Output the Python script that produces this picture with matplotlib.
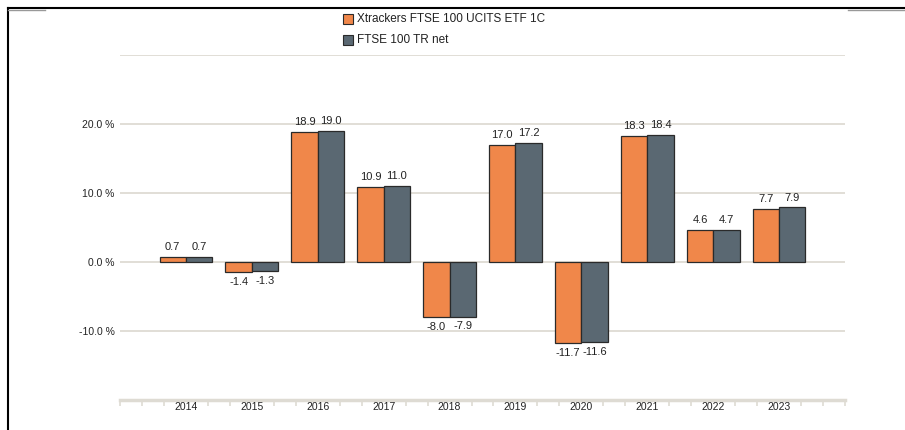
import matplotlib
matplotlib.use("Agg")
import matplotlib.pyplot as plt
from matplotlib.lines import Line2D
from matplotlib.patches import Rectangle
import numpy as np

plt.rcParams['font.family'] = ['Liberation Sans', 'DejaVu Sans']

years = ["2014", "2015", "2016", "2017", "2018", "2019", "2020", "2021", "2022", "2023"]
etf = [0.7, -1.4, 18.9, 10.9, -8.0, 17.0, -11.7, 18.3, 4.6, 7.7]
index = [0.7, -1.3, 19.0, 11.0, -7.9, 17.2, -11.6, 18.4, 4.7, 7.9]
series_names = ["Xtrackers FTSE 100 UCITS ETF 1C", "FTSE 100 TR net"]
yticks = [-10, 0, 10, 20]

orange = "#f0874a"
slate = "#5a6872"
grid_c = "#dedbd3"
text_c = "#222222"

W, H = 905, 430
fig = plt.figure(figsize=(W / 100, H / 100), dpi=100)
ax = fig.add_axes([120 / W, 30 / H, 725 / W, 345 / H])

x = np.arange(len(years))
bw = 0.4
ax.bar(x - bw / 2, etf, bw, color=orange, edgecolor="#2a2a2a", linewidth=0.9, zorder=3)
ax.bar(x + bw / 2, index, bw, color=slate, edgecolor="#2a2a2a", linewidth=0.9, zorder=3)

for xs, vals in ((x - bw / 2, etf), (x + bw / 2, index)):
    for xi, v in zip(xs, vals):
        if v >= 0:
            ax.annotate(f"{v:.1f}", (xi, v), xytext=(0, 3.5), textcoords="offset points",
                        ha="center", va="bottom", fontsize=8, color=text_c)
        else:
            ax.annotate(f"{v:.1f}", (xi, v), xytext=(0, -3.5), textcoords="offset points",
                        ha="center", va="top", fontsize=8, color=text_c)

ax.set_xlim(-1, len(years))
ax.set_ylim(-20, 30)
for g in [30, 20, 10, 0, -10]:
    ax.axhline(g, color=grid_c, linewidth=1.3, zorder=1)
ax.axhline(-20, color=grid_c, linewidth=2.5, zorder=1, clip_on=False)

for s in ax.spines.values():
    s.set_visible(False)

ax.set_yticks(yticks)
ax.set_yticklabels([f"{t:.1f} %" for t in yticks], fontsize=7.5, color=text_c)
ax.tick_params(axis="y", length=0, pad=4)

ax.set_xticks(x)
ax.set_xticklabels(years, fontsize=7.5, color=text_c)
ax.tick_params(axis="x", length=0, pad=1.5)
minor = [m / 3 for m in range(-3, 3 * len(years) + 1) if m % 3 != 0 or m in (-3, 3 * len(years))]
ax.set_xticks(minor, minor=True)
ax.tick_params(axis="x", which="minor", length=4, width=1.2, color=grid_c)

# legend
for i, (name, c) in enumerate(zip(series_names, [orange, slate])):
    yy = 1 - (19 + 21 * i) / H
    fig.patches.append(Rectangle((343 / W, yy - 5 / H), 10 / W, 10 / H, transform=fig.transFigure,
                                 facecolor=c, edgecolor="#2a2a2a", linewidth=0.8))
    fig.text(357 / W, yy, name, fontsize=8.5, color=text_c, va="center", ha="left")

# frame lines
fig.add_artist(Line2D([8 / W, 1], [1 - 8 / H, 1 - 8 / H], color="black", linewidth=1.5, transform=fig.transFigure))
fig.add_artist(Line2D([8 / W, 8 / W], [0, 1 - 8 / H], color="black", linewidth=1.5, transform=fig.transFigure))
fig.add_artist(Line2D([848 / W, 1], [1 - 9.5 / H, 1 - 9.5 / H], color="#999999", linewidth=1, transform=fig.transFigure))
fig.add_artist(Line2D([8 / W, 45 / W], [1 - 9.5 / H, 1 - 9.5 / H], color="#999999", linewidth=1, transform=fig.transFigure))

fig.savefig("out.png", dpi=100)
